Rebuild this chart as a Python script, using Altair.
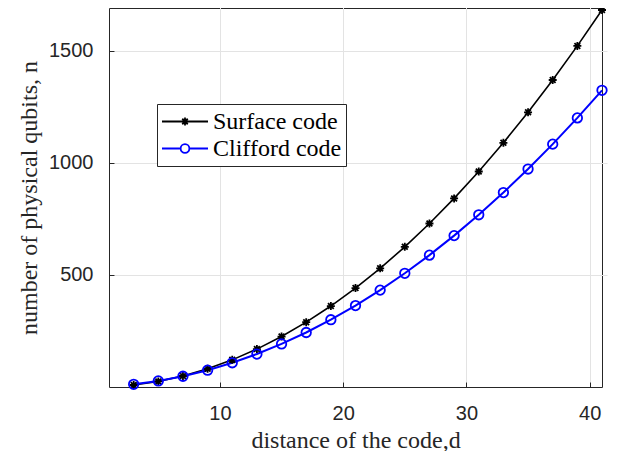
import altair as alt
import pandas as pd

d_values = [3, 5, 7, 9, 11, 13, 15, 17, 19, 21, 23, 25, 27, 29, 31, 33, 35, 37, 39, 41]
surface_n = [9, 25, 49, 81, 121, 169, 225, 289, 361, 441, 529, 625, 729, 841, 961,
             1089, 1225, 1369, 1521, 1681]
clifford_n = [12, 27, 48, 75, 108, 147, 192, 243, 300, 363, 432, 507, 588, 675, 768,
              867, 972, 1083, 1200, 1323]
series_names = ["Surface code", "Clifford code"]
series_colors = ["#000000", "#0000ff"]
x_ticks = [10, 20, 30, 40]
y_ticks = [500, 1000, 1500]

rows = []
for name, vals in zip(series_names, [surface_n, clifford_n]):
    for d, n in zip(d_values, vals):
        rows.append({"series": name, "d": d, "n": n})
df = pd.DataFrame(rows)

SERIF = "Liberation Serif"
SANS = "Liberation Sans"

x_enc = alt.X("d:Q", scale=alt.Scale(domain=[1, 41], nice=False, zero=False),
              axis=alt.Axis(values=x_ticks, format="d", title="distance of the code,d"))
y_enc = alt.Y("n:Q", scale=alt.Scale(domain=[0, 1690], nice=False, zero=False),
              axis=alt.Axis(values=y_ticks, format="d", title="number of physical qubits, n"))
color_scale = alt.Scale(domain=series_names, range=series_colors)

lines = alt.Chart(df).mark_line().encode(
    x=x_enc, y=y_enc,
    color=alt.Color("series:N", scale=color_scale, legend=None),
    strokeWidth=alt.StrokeWidth("series:N", scale=alt.Scale(domain=series_names, range=[1.6, 2.0]), legend=None),
    detail="series:N",
)

asterisk = "M-1,0H1M0,-1V1M-0.72,-0.72L0.72,0.72M-0.72,0.72L0.72,-0.72"
points = alt.Chart(df).mark_point(filled=False, strokeWidth=1.8, opacity=1).encode(
    x=x_enc, y=y_enc,
    color=alt.Color("series:N", scale=color_scale, legend=None),
    shape=alt.Shape("series:N", scale=alt.Scale(domain=series_names, range=[asterisk, "circle"]), legend=None),
    size=alt.Size("series:N", scale=alt.Scale(domain=series_names, range=[64, 90]), legend=None),
)

leg_ast = ("M-1,0H1M-0.17,0H0.17M0,-0.17V0.17M-0.12,-0.12L0.12,0.12M-0.12,0.12L0.12,-0.12")
leg_circ = ("M-1,0H-0.19M0.19,0H1M-0.19,0A0.19,0.19 0 1,0 0.19,0A0.19,0.19 0 1,0 -0.19,0")
legend_props = dict(title=None, orient="none", legendX=48, legendY=96,
                    symbolOpacity=1, symbolSize=2116, symbolStrokeWidth=1.8,
                    labelFont=SERIF, labelFontSize=24, labelColor="#000000",
                    labelOffset=4, clipHeight=27, rowPadding=0,
                    padding=4, strokeColor="#262626", fillColor="#ffffff",
                    symbolFillColor="transparent")
legend_layer = alt.Chart(df).mark_point(filled=False, opacity=0).encode(
    x=x_enc, y=y_enc,
    color=alt.Color("series:N", scale=alt.Scale(domain=series_names, range=series_colors),
                    legend=alt.Legend(**legend_props)),
    shape=alt.Shape("series:N", scale=alt.Scale(domain=series_names, range=[leg_ast, leg_circ]),
                    legend=alt.Legend(**legend_props)),
)

chart = alt.layer(lines, points, legend_layer).resolve_scale(
    shape="independent", color="independent"
).properties(
    width=493, height=379,
    autosize=alt.AutoSizeParams(type="none"),
    padding={"left": 101, "top": 0, "right": 13, "bottom": 64},
).configure_view(
    stroke="#262626", strokeWidth=1,
).configure_axis(
    labelFont=SANS, labelFontSize=20, labelColor="#262626",
    titleFont=SERIF, titleFontSize=24, titleColor="#262626", titleFontWeight="normal",
    grid=True, gridColor="#e3e3e3", gridWidth=1,
    domain=False, ticks=True, tickSize=5, tickColor="#262626", tickWidth=1,
    offset=-5, labelPadding=16,
).configure_axisX(
    titlePadding=5,
).configure_axisY(
    titlePadding=7,
)

chart.save("out.html", embed_options={"renderer": "svg", "actions": False})
